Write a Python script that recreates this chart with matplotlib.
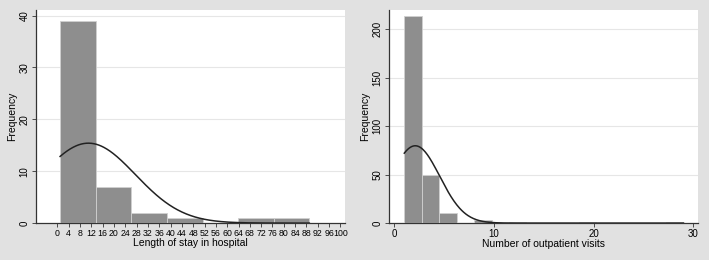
import numpy as np
import matplotlib
matplotlib.use('Agg')
import matplotlib.pyplot as plt

plt.rcParams['font.family'] = ['Liberation Sans', 'DejaVu Sans']

# left panel: length of stay
stay_edges = [1, 13.57, 26.14, 38.71, 51.29, 63.86, 76.43, 89]
stay_counts = [39, 7, 2, 1, 0, 1, 1]
stay_mean, stay_sd = 11.0, 16.6
stay_ticks = list(range(0, 101, 4))

# right panel: outpatient visits
visit_edges = [1 + 1.75 * k for k in range(17)]
visit_counts = [214, 50, 10, 0, 3, 0, 1, 0, 0, 0, 1, 0, 0, 0, 0, 1]
visit_mean, visit_sd = 2.1, 2.45
visit_ticks = [0, 10, 20, 30]

bg = '#e1e1e1'
bar_col = '#8e8e8e'

fig = plt.figure(figsize=(7.09, 2.6), dpi=100, facecolor=bg)


def normal_overlay(ax, edges, counts, mu, sd):
    n = sum(counts)
    w = edges[1] - edges[0]
    xs = np.linspace(edges[0], edges[-1], 400)
    ys = n * w / (sd * np.sqrt(2 * np.pi)) * np.exp(-(xs - mu) ** 2 / (2 * sd ** 2))
    ax.plot(xs, ys, color='#222222', lw=1.1, zorder=4)


def panel(rect, edges, counts, mu, sd, xticks, yticks, xlim, ylim, xlabel):
    ax = fig.add_axes(rect)
    ax.set_facecolor('white')
    widths = np.diff(edges)
    ax.bar(edges[:-1], counts, width=widths, align='edge', color=bar_col,
           edgecolor='#d0d0d0', linewidth=0.6, zorder=3)
    normal_overlay(ax, edges, counts, mu, sd)
    ax.set_xlim(*xlim)
    ax.set_ylim(*ylim)
    ax.set_xticks(xticks)
    ax.set_yticks(yticks)
    for y in yticks[1:]:
        ax.axhline(y, color='#e6e6e6', lw=0.8, zorder=1)
    ax.tick_params(axis='both', labelsize=7, length=3, width=0.6, pad=1.5, color='#333333')
    plt.setp(ax.get_yticklabels(), rotation=90, va='center')
    ax.set_xlabel(xlabel, fontsize=7.5, labelpad=0)
    ax.set_ylabel('Frequency', fontsize=7.5, labelpad=2)
    for s in ['top', 'right']:
        ax.spines[s].set_visible(False)
    for s in ['left', 'bottom']:
        ax.spines[s].set_color('#333333')
        ax.spines[s].set_linewidth(0.9)
    return ax


ax1 = panel([0.0508, 0.142, 0.4358, 0.82], stay_edges, stay_counts, stay_mean, stay_sd,
            stay_ticks, [0, 10, 20, 30, 40], (-7.5, 101.6), (0, 41.1),
            'Length of stay in hospital')
ax1.tick_params(axis='x', labelsize=6.3)

ax2 = panel([0.5487, 0.142, 0.4358, 0.82], visit_edges, visit_counts, visit_mean, visit_sd,
            visit_ticks, [0, 50, 100, 150, 200], (-0.53, 30.46), (0, 220),
            'Number of outpatient visits')

fig.savefig('out.png', dpi=100, facecolor=bg)
